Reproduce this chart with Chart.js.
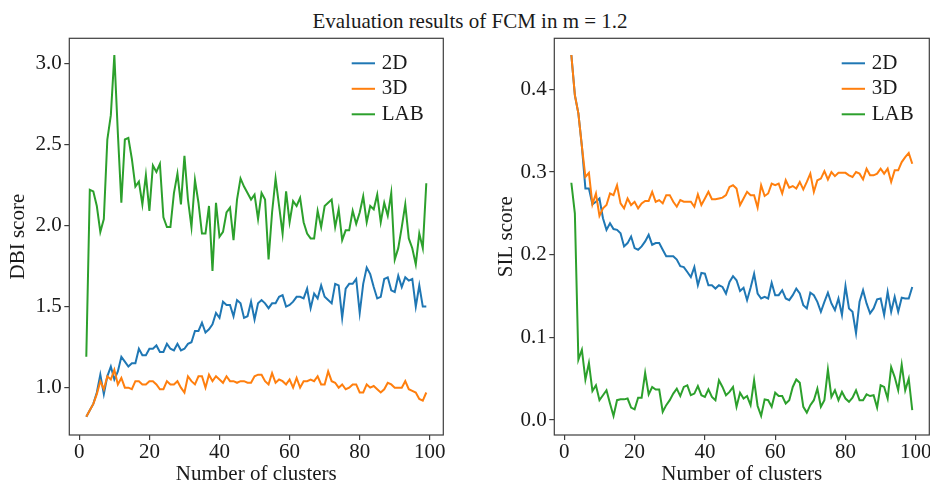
<!DOCTYPE html>
<html>
<head>
<meta charset="utf-8">
<script src="https://cdn.jsdelivr.net/npm/chart.js@4.4.1/dist/chart.umd.min.js"></script>
<style>
  html, body { margin: 0; padding: 0; background: #fff; overflow: hidden; }
  #wrap { position: relative; width: 930px; height: 483px; overflow: hidden; background: #fff; }
  #title { position: absolute; left: 5px; top: 10.7px; width: 930px; text-align: center;
           font-family: 'Liberation Serif', serif; font-size: 21px; line-height: 21px; color: #1a1a1a; white-space: nowrap; }
  .panel { position: absolute; top: 0; width: 465px; height: 500px; }
</style>
</head>
<body>
<div id="wrap">
  <div id="title">Evaluation results of FCM in m = 1.2</div>
  <div class="panel" style="left:0"><canvas id="dbi" width="465" height="500"></canvas></div>
  <div class="panel" style="left:465px"><canvas id="sil" width="465" height="500"></canvas></div>
</div>
<script>
// ---------------- data ----------------
const clusters = [2,3,4,5,6,7,8,9,10,11,12,13,14,15,16,17,18,19,20,21,22,23,24,25,26,27,28,29,30,31,32,33,34,35,36,37,38,39,40,41,42,43,44,45,46,47,48,49,50,51,52,53,54,55,56,57,58,59,60,61,62,63,64,65,66,67,68,69,70,71,72,73,74,75,76,77,78,79,80,81,82,83,84,85,86,87,88,89,90,91,92,93,94,95,96,97,98,99];

const seriesNames = ['2D', '3D', 'LAB'];
const seriesColors = ['#1f77b4', '#ff7f0e', '#2ca02c'];

const xTicks = [0, 20, 40, 60, 80, 100];
const dbiTicks = [1.0, 1.5, 2.0, 2.5, 3.0];
const silTicks = [0.0, 0.1, 0.2, 0.3, 0.4];

const dbi2D = [0.82,0.86,0.90,0.97,1.08,0.96,1.07,1.13,1.05,1.10,
  1.19,1.16,1.13,1.15,1.15,1.24,1.20,1.20,1.24,1.24,
  1.26,1.22,1.22,1.27,1.24,1.23,1.27,1.23,1.24,1.27,
  1.28,1.35,1.35,1.40,1.34,1.36,1.39,1.46,1.43,1.53,
  1.51,1.51,1.44,1.54,1.52,1.43,1.44,1.53,1.42,1.52,
  1.54,1.52,1.49,1.52,1.52,1.56,1.57,1.50,1.51,1.53,
  1.56,1.56,1.55,1.61,1.49,1.58,1.55,1.63,1.56,1.54,
  1.52,1.64,1.63,1.43,1.61,1.64,1.64,1.67,1.46,1.64,
  1.74,1.70,1.62,1.55,1.56,1.67,1.68,1.60,1.59,1.69,
  1.62,1.68,1.66,1.67,1.50,1.63,1.50,1.50];

const dbi3D = [0.82,0.86,0.90,0.96,1.04,0.99,1.07,1.05,1.11,1.02,
  1.06,1.00,1.00,0.99,1.04,1.04,1.02,1.02,1.04,1.04,
  1.02,0.99,0.99,1.04,1.02,1.02,1.04,1.00,0.97,1.07,
  1.04,1.02,1.07,1.07,1.00,1.08,1.04,1.07,1.05,1.03,
  1.07,1.04,1.04,1.03,1.04,1.04,1.03,1.03,1.07,1.08,
  1.08,1.04,1.02,1.09,1.03,1.05,1.04,1.02,1.05,1.00,
  1.06,1.00,1.04,1.04,1.05,1.04,1.07,1.02,1.02,1.10,
  1.04,1.03,1.00,1.02,0.99,1.00,1.02,1.02,0.97,0.97,
  1.02,1.00,1.01,0.99,0.97,0.99,1.03,1.02,1.00,1.00,
  1.00,1.04,0.99,0.98,0.97,0.93,0.92,0.97];

const dbiLAB = [1.19,2.22,2.21,2.12,1.96,2.04,2.53,2.68,3.05,2.57,
  2.14,2.53,2.54,2.41,2.24,2.27,2.13,2.31,2.09,2.37,
  2.33,2.38,2.05,1.99,1.99,2.20,2.32,2.13,2.43,2.16,
  1.99,2.28,2.14,1.95,1.95,2.12,1.72,2.14,1.93,1.96,
  2.08,2.11,1.91,2.16,2.29,2.24,2.20,2.16,2.19,2.04,
  2.20,2.16,1.79,2.08,2.29,2.12,1.95,2.21,2.02,2.15,
  2.12,2.17,2.02,1.95,1.92,1.92,2.09,1.99,2.12,2.14,
  2.16,1.99,2.10,1.91,1.97,1.97,2.09,2.01,2.08,2.18,
  2.02,2.12,2.10,2.19,2.02,2.14,2.06,2.20,1.79,1.86,
  1.99,2.13,1.92,1.86,1.76,1.95,1.86,2.26];

const sil2D = [0.4415,0.393,0.371,0.331,0.280,0.280,0.261,0.264,0.268,0.244,
  0.230,0.238,0.231,0.230,0.226,0.210,0.214,0.222,0.208,0.206,
  0.210,0.216,0.224,0.212,0.214,0.214,0.206,0.198,0.198,0.198,
  0.194,0.186,0.185,0.179,0.173,0.185,0.163,0.178,0.177,0.163,
  0.163,0.159,0.163,0.161,0.153,0.167,0.174,0.169,0.156,0.160,
  0.145,0.160,0.177,0.153,0.147,0.149,0.147,0.166,0.151,0.151,
  0.157,0.147,0.145,0.151,0.159,0.153,0.139,0.135,0.154,0.151,
  0.143,0.131,0.143,0.154,0.141,0.133,0.147,0.127,0.162,0.135,
  0.131,0.105,0.143,0.157,0.141,0.129,0.135,0.146,0.147,0.127,
  0.155,0.131,0.149,0.131,0.148,0.147,0.147,0.161];

const sil3D = [0.4415,0.393,0.371,0.331,0.294,0.299,0.261,0.274,0.247,0.256,
  0.260,0.274,0.272,0.284,0.262,0.256,0.268,0.260,0.264,0.256,
  0.262,0.265,0.265,0.276,0.264,0.266,0.262,0.272,0.272,0.264,
  0.258,0.266,0.264,0.264,0.264,0.258,0.273,0.260,0.268,0.276,
  0.267,0.267,0.268,0.269,0.272,0.282,0.284,0.280,0.260,0.268,
  0.276,0.272,0.272,0.257,0.284,0.271,0.274,0.286,0.284,0.286,
  0.274,0.290,0.281,0.283,0.280,0.288,0.279,0.288,0.298,0.276,
  0.290,0.292,0.301,0.291,0.300,0.295,0.299,0.299,0.299,0.296,
  0.294,0.300,0.298,0.291,0.304,0.296,0.296,0.298,0.304,0.298,
  0.304,0.288,0.302,0.302,0.312,0.318,0.323,0.310];

const silLAB = [0.287,0.250,0.073,0.085,0.049,0.069,0.035,0.042,0.024,0.030,
  0.036,0.020,0.005,0.024,0.025,0.025,0.026,0.015,0.013,0.027,
  0.027,0.057,0.031,0.040,0.037,0.037,0.010,0.018,0.024,0.032,
  0.038,0.029,0.040,0.042,0.030,0.032,0.041,0.030,0.028,0.037,
  0.028,0.024,0.048,0.040,0.030,0.034,0.040,0.016,0.033,0.026,
  0.029,0.018,0.048,0.017,0.005,0.025,0.024,0.016,0.033,0.029,
  0.029,0.020,0.024,0.040,0.049,0.045,0.016,0.009,0.018,0.024,
  0.038,0.016,0.024,0.061,0.028,0.036,0.024,0.034,0.026,0.022,
  0.027,0.036,0.024,0.024,0.031,0.029,0.030,0.015,0.042,0.040,
  0.026,0.064,0.052,0.036,0.067,0.036,0.050,0.012];

// ---------------- styling ----------------
const FONT = "'Liberation Serif', 'DejaVu Serif', serif";
const INK = '#1a1a1a';
const FRAME = '#3d3d3d';

const framePlugin = {
  id: 'frame',
  afterDatasetsDraw(chart) {
    const { ctx, chartArea: a } = chart;
    ctx.save();
    ctx.strokeStyle = FRAME;
    ctx.lineWidth = 1.2;
    ctx.strokeRect(a.left, a.top, a.right - a.left, a.bottom - a.top);
    ctx.restore();
  }
};

const inlineLegend = {
  id: 'inlineLegend',
  afterDraw(chart, args, opts) {
    const { ctx, chartArea: a } = chart;
    ctx.save();
    ctx.font = '21px ' + FONT;
    ctx.textBaseline = 'middle';
    ctx.textAlign = 'left';
    chart.data.datasets.forEach((ds, i) => {
      const y = a.top + opts.top + i * opts.rowGap;
      const x0 = a.right - opts.fromRight;
      ctx.strokeStyle = ds.borderColor;
      ctx.lineWidth = 2;
      ctx.beginPath();
      ctx.moveTo(x0, y);
      ctx.lineTo(x0 + opts.lineLen, y);
      ctx.stroke();
      ctx.fillStyle = INK;
      ctx.fillText(ds.label, x0 + opts.lineLen + opts.gap, y);
    });
    ctx.restore();
  }
};

function makeChart(id, series, yTicks, yMin, yMax, yTitle, cfg) {
  const datasets = series.map((vals, i) => ({
    label: seriesNames[i],
    data: clusters.map((c, j) => ({ x: c, y: vals[j] })),
    borderColor: seriesColors[i],
    backgroundColor: seriesColors[i],
    borderWidth: 2,
    pointRadius: 0,
    tension: 0,
    fill: false,
    order: series.length - 1 - i
  }));
  const tickFont = { size: 21, family: FONT };
  return new Chart(document.getElementById(id), {
    type: 'line',
    data: { datasets },
    plugins: [framePlugin, inlineLegend],
    options: {
      responsive: false,
      animation: false,
      events: [],
      layout: { padding: { left: 0, right: cfg.padRight, top: 38.3, bottom: 0 } },
      plugins: {
        legend: { display: false },
        title: { display: false },
        tooltip: { enabled: false },
        inlineLegend: { top: 25, rowGap: 25.5, fromRight: cfg.legendFromRight, lineLen: 23.3, gap: 6.7 }
      },
      scales: {
        x: {
          type: 'linear',
          bounds: 'data',
          min: -2.85, max: 103.85,
          afterBuildTicks: s => { s.ticks = xTicks.map(v => ({ value: v })); },
          afterFit: s => { s.height = 65; s.paddingLeft = 0; s.paddingRight = 0; },
          ticks: { callback: v => String(v), font: tickFont, color: INK, padding: 0, maxRotation: 0, autoSkip: false },
          grid: { display: true, drawOnChartArea: false, drawTicks: true, tickLength: 5, color: FRAME, lineWidth: 1.2 },
          border: { display: false },
          title: { display: true, text: 'Number of clusters', font: tickFont, color: INK, padding: { top: 0, bottom: 12.7 } }
        },
        y: {
          type: 'linear',
          bounds: 'data',
          min: yMin, max: yMax,
          afterBuildTicks: s => { s.ticks = yTicks.map(v => ({ value: v })); },
          afterFit: s => { s.width = cfg.yWidth; s.paddingTop = 0; s.paddingBottom = 0; },
          ticks: { callback: v => Number(v).toFixed(1), font: tickFont, color: INK, padding: 2.6, autoSkip: false },
          grid: { display: true, drawOnChartArea: false, drawTicks: true, tickLength: 5, color: FRAME, lineWidth: 1.2 },
          border: { display: false },
          title: { display: true, text: yTitle, font: tickFont, color: INK, padding: { top: cfg.yTitlePad, bottom: 0 } }
        }
      }
    }
  });
}

makeChart('dbi', [dbi2D, dbi3D, dbiLAB], dbiTicks, 0.708, 3.154, 'DBI score',
  { padRight: 21.7, yWidth: 69.3, yTitlePad: 5.7, legendFromRight: 91.6 });
makeChart('sil', [sil2D, sil3D, silLAB], silTicks, -0.0181, 0.4617, 'SIL score',
  { padRight: 0.7, yWidth: 89.3, yTitlePad: 28.4, legendFromRight: 87.6 });
</script>
</body>
</html>
